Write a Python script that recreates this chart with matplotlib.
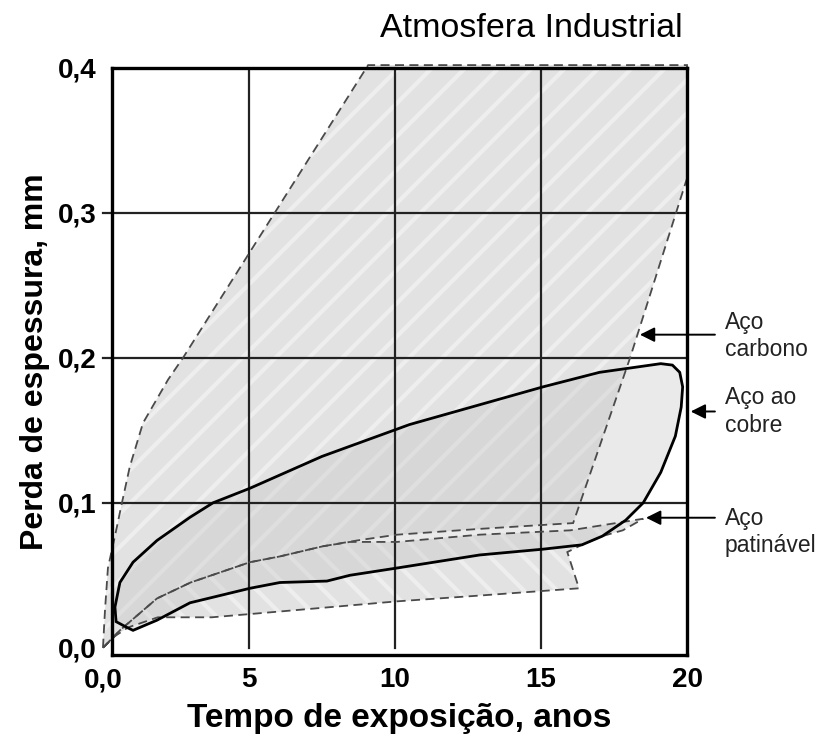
import numpy as np
import matplotlib
matplotlib.use("Agg")
import matplotlib.pyplot as plt
import matplotlib.transforms as mtransforms
from matplotlib.patches import Polygon

plt.rcParams['font.family'] = ['Liberation Sans', 'DejaVu Sans']
plt.rcParams['hatch.linewidth'] = 3.0

# Aco carbono band (outline)
carbono_x = [0, 0.07, 0.17, 0.41, 0.65, 0.92, 1.37, 2.23, 2.74, 9.08, 20.0, 20.0,
             18.05, 16.1, 12.9, 10.07, 8.7, 7.53, 6.06, 5.03, 3.0, 1.85, 0.58]
carbono_y = [0, 0.026, 0.055, 0.077, 0.1, 0.125, 0.155, 0.185, 0.2, 0.402, 0.402, 0.324,
             0.2, 0.086, 0.082, 0.078, 0.074, 0.07, 0.063, 0.059, 0.045, 0.034, 0.012]

# Aco patinavel band
patinavel_x = [0, 0.41, 0.86, 1.88, 3.73, 6.06, 10.07, 12.9, 16.3, 15.9, 16.4, 17.1, 17.8,
               18.5, 16.0, 12.9, 10.07, 8.46, 7.53, 6.06, 5.03, 3.0, 1.85, 0.58]
patinavel_y = [0, 0.008, 0.014, 0.021, 0.021, 0.025, 0.032, 0.036, 0.041, 0.066, 0.071, 0.077,
               0.081, 0.089, 0.081, 0.078, 0.073, 0.073, 0.07, 0.063, 0.059, 0.045, 0.034, 0.012]

# Aco ao cobre band
cobre_x = [0.41, 0.58, 1.03, 1.85, 2.98, 3.77, 5.03, 7.5, 10.5, 15.07, 17.0, 19.1, 19.5, 19.75,
           19.85, 19.8, 19.6, 19.1, 18.5, 17.9, 17.1, 16.4, 15.07, 12.9, 10.07, 8.46, 7.67,
           6.06, 5.03, 2.98, 1.85, 1.03, 0.82, 0.45]
cobre_y = [0.028, 0.045, 0.059, 0.074, 0.09, 0.1, 0.11, 0.132, 0.154, 0.18, 0.19, 0.196, 0.195,
           0.19, 0.18, 0.166, 0.146, 0.121, 0.1, 0.088, 0.077, 0.071, 0.068, 0.064, 0.055, 0.05,
           0.046, 0.045, 0.041, 0.031, 0.019, 0.012, 0.014, 0.018]

x_ticks = [5, 10, 15, 20]
x_labels = ['5', '10', '15', '20']
y_ticks = [0.0, 0.1, 0.2, 0.3, 0.4]
y_labels = ['0,0', '0,1', '0,2', '0,3', '0,4']

labels = ['Aço\ncarbono', 'Aço ao\ncobre', 'Aço\npatinável']
arrow_tips = [(18.29, 0.216), (20.03, 0.163), (18.5, 0.0897)]
label_y = [0.215, 0.163, 0.080]

fig = plt.figure(figsize=(8.23, 7.39), dpi=100)
ax = fig.add_axes([0.1361, 0.1137, 0.6987, 0.7943])
ax.set_xlim(0.31, 20.0)
ax.set_ylim(-0.005, 0.4)


def band(xs, ys, hatch):
    pts = np.column_stack([xs, ys])
    ax.add_patch(Polygon(pts, closed=True, facecolor='#e2e2e2', edgecolor='none',
                         zorder=1, clip_on=False))
    ax.add_patch(Polygon(pts, closed=True, facecolor='none', edgecolor='#eeeeee',
                         hatch=hatch, linewidth=0, zorder=1.1, clip_on=False))
    ax.add_patch(Polygon(pts, closed=True, facecolor='none', edgecolor='#4a4a4a',
                         linewidth=1.3, linestyle=(0, (5, 3)), zorder=3, clip_on=False))


band(carbono_x, carbono_y, '/')
band(patinavel_x, patinavel_y, '\\')

cobre = np.column_stack([cobre_x, cobre_y])
ax.add_patch(Polygon(cobre, closed=True, facecolor='#c4c4c4', alpha=0.35,
                     edgecolor='none', zorder=1.5, clip_on=False))
ax.add_patch(Polygon(cobre, closed=True, facecolor='none', edgecolor='black',
                     linewidth=2.0, zorder=3.2, clip_on=False))

# grid
for yv in [0.1, 0.2, 0.3]:
    ax.plot([0, 20], [yv, yv], color='#222222', lw=1.6, zorder=2, clip_on=False)
for xv in [5, 10, 15]:
    ax.plot([xv, xv], [0, 0.4], color='#222222', lw=1.6, zorder=2)

for s in ax.spines.values():
    s.set_linewidth(2.4)
    s.set_zorder(4)

ax.set_xticks(x_ticks)
ax.set_xticklabels(x_labels, fontsize=20, fontweight='bold')
ax.set_yticks(y_ticks)
ax.set_yticklabels(y_labels, fontsize=20, fontweight='bold')
ax.tick_params(length=0)
ax.tick_params(axis='x', pad=9)
ax.tick_params(axis='y', pad=11)

# x = 0 lies left of the frame, so its label is placed by hand
trans = mtransforms.blended_transform_factory(ax.transData, ax.transAxes)
trans = mtransforms.offset_copy(trans, fig=fig, y=-9, units='points')
ax.text(0, 0, '0,0', transform=trans, ha='center', va='top',
        fontsize=20, fontweight='bold', clip_on=False)

ax.set_xlabel('Tempo de exposição, anos', fontsize=24, fontweight='bold', labelpad=7)
ax.set_ylabel('Perda de espessura, mm', fontsize=23, fontweight='bold', labelpad=6)

fig.text(0.646, 0.962, 'Atmosfera Industrial', fontsize=24.5, ha='center', va='center')

for lab, tip, ly in zip(labels, arrow_tips, label_y):
    ax.annotate('', xy=tip, xytext=(21.05, tip[1]),
                arrowprops=dict(arrowstyle='-|>', color='black', lw=1.4,
                                mutation_scale=22),
                annotation_clip=False, zorder=5)
    ax.text(21.3, ly, lab, fontsize=16.5, ha='left', va='center', linespacing=1.25,
            clip_on=False, color='#222222')

fig.savefig('out.png', dpi=100)
